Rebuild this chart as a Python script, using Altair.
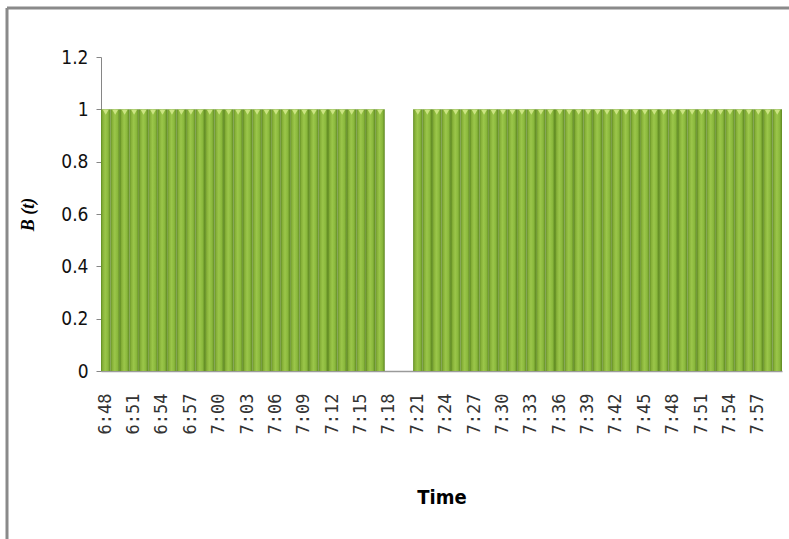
import altair as alt
import pandas as pd

times = [
    "6:48", "6:49", "6:50", "6:51", "6:52", "6:53", "6:54", "6:55", "6:56", "6:57", "6:58", "6:59",
    "7:00", "7:01", "7:02", "7:03", "7:04", "7:05", "7:06", "7:07", "7:08", "7:09", "7:10", "7:11",
    "7:12", "7:13", "7:14", "7:15", "7:16", "7:17", "7:18", "7:19", "7:20", "7:21", "7:22", "7:23",
    "7:24", "7:25", "7:26", "7:27", "7:28", "7:29", "7:30", "7:31", "7:32", "7:33", "7:34", "7:35",
    "7:36", "7:37", "7:38", "7:39", "7:40", "7:41", "7:42", "7:43", "7:44", "7:45", "7:46", "7:47",
    "7:48", "7:49", "7:50", "7:51", "7:52", "7:53", "7:54", "7:55", "7:56", "7:57", "7:58", "7:59",
]
values = [
    1, 1, 1, 1, 1, 1, 1, 1, 1, 1, 1, 1,
    1, 1, 1, 1, 1, 1, 1, 1, 1, 1, 1, 1,
    1, 1, 1, 1, 1, 1, 0, 0, 0, 1, 1, 1,
    1, 1, 1, 1, 1, 1, 1, 1, 1, 1, 1, 1,
    1, 1, 1, 1, 1, 1, 1, 1, 1, 1, 1, 1,
    1, 1, 1, 1, 1, 1, 1, 1, 1, 1, 1, 1,
]
x_tick_labels = [
    "6:48", "6:51", "6:54", "6:57", "7:00", "7:03", "7:06", "7:09", "7:12", "7:15", "7:18",
    "7:21", "7:24", "7:27", "7:30", "7:33", "7:36", "7:39", "7:42", "7:45", "7:48", "7:51",
    "7:54", "7:57",
]
y_ticks = [0, 0.2, 0.4, 0.6, 0.8, 1, 1.2]

df = pd.DataFrame({"time": times, "value": values})

bar_fill = alt.Gradient(
    gradient="linear",
    x1=0, x2=1, y1=0, y2=0,
    stops=[
        alt.GradientStop(offset=0, color="#5f8a22"),
        alt.GradientStop(offset=0.18, color="#86b038"),
        alt.GradientStop(offset=0.45, color="#9bc64a"),
        alt.GradientStop(offset=0.75, color="#8ab83c"),
        alt.GradientStop(offset=1, color="#5c8520"),
    ],
)

x_enc = alt.X(
    "time:N",
    sort=times,
    scale=alt.Scale(paddingInner=0, paddingOuter=0),
    axis=alt.Axis(
        title="Time",
        values=x_tick_labels,
        labelAngle=270,
        labelFont="DejaVu Sans Mono",
        labelFontSize=17,
        labelColor="#333333",
        labelPadding=22,
        tickSize=0,
        domainColor="#9a9a9a",
        domainWidth=1.5,
        titleFont="DejaVu Sans Condensed, sans-serif",
        titleFontSize=20,
        titleFontWeight="bold",
        titleColor="#000000",
        titleY=126,
        titleBaseline="middle",
    ),
)
y_enc = alt.Y(
    "value:Q",
    scale=alt.Scale(domain=[0, 1.2], nice=False),
    axis=alt.Axis(
        title="B (t)",
        values=y_ticks,
        format="~g",
        labelFont="DejaVu Sans Condensed, sans-serif",
        labelFontSize=19,
        labelColor="#111111",
        labelPadding=8,
        tickSize=5,
        tickColor="#868686",
        domainColor="#868686",
        titleFont="Liberation Serif, DejaVu Serif, serif",
        titleFontSize=18,
        titleFontWeight="bold",
        titleFontStyle="italic",
        titleColor="#000000",
        titleX=-73,
        titleY=157,
        titleAlign="center",
        titleBaseline="middle",
    ),
)

bars = alt.Chart(df).mark_bar(color=bar_fill).encode(x=x_enc, y=y_enc)

tops = (
    alt.Chart(df)
    .transform_filter("datum.value > 0")
    .mark_point(shape="triangle-down", filled=True, color="#d2e889", size=30, opacity=0.9, yOffset=3)
    .encode(x=alt.X("time:N", sort=times), y=alt.Y("value:Q"))
)

frame_df = pd.DataFrame({"k": [0]})
top_line = alt.Chart(frame_df).mark_rule(color="#8a8a8a", strokeWidth=3).encode(
    x=alt.value(-94), x2=alt.value(688), y=alt.value(-49)
)
left_line = alt.Chart(frame_df).mark_rule(color="#8a8a8a", strokeWidth=3).encode(
    x=alt.value(-94), y=alt.value(-49), y2=alt.value(482)
)

chart = (
    alt.layer(bars, tops, top_line, left_line)
    .properties(
        width=681,
        height=314,
        autosize=alt.AutoSizeParams(type="none"),
        padding={"left": 101, "top": 57, "right": 7, "bottom": 168},
        background="white",
    )
    .configure_view(stroke=None)
    .configure_axis(grid=False)
)

chart.save("out.html", embed_options={"renderer": "svg", "actions": False})
